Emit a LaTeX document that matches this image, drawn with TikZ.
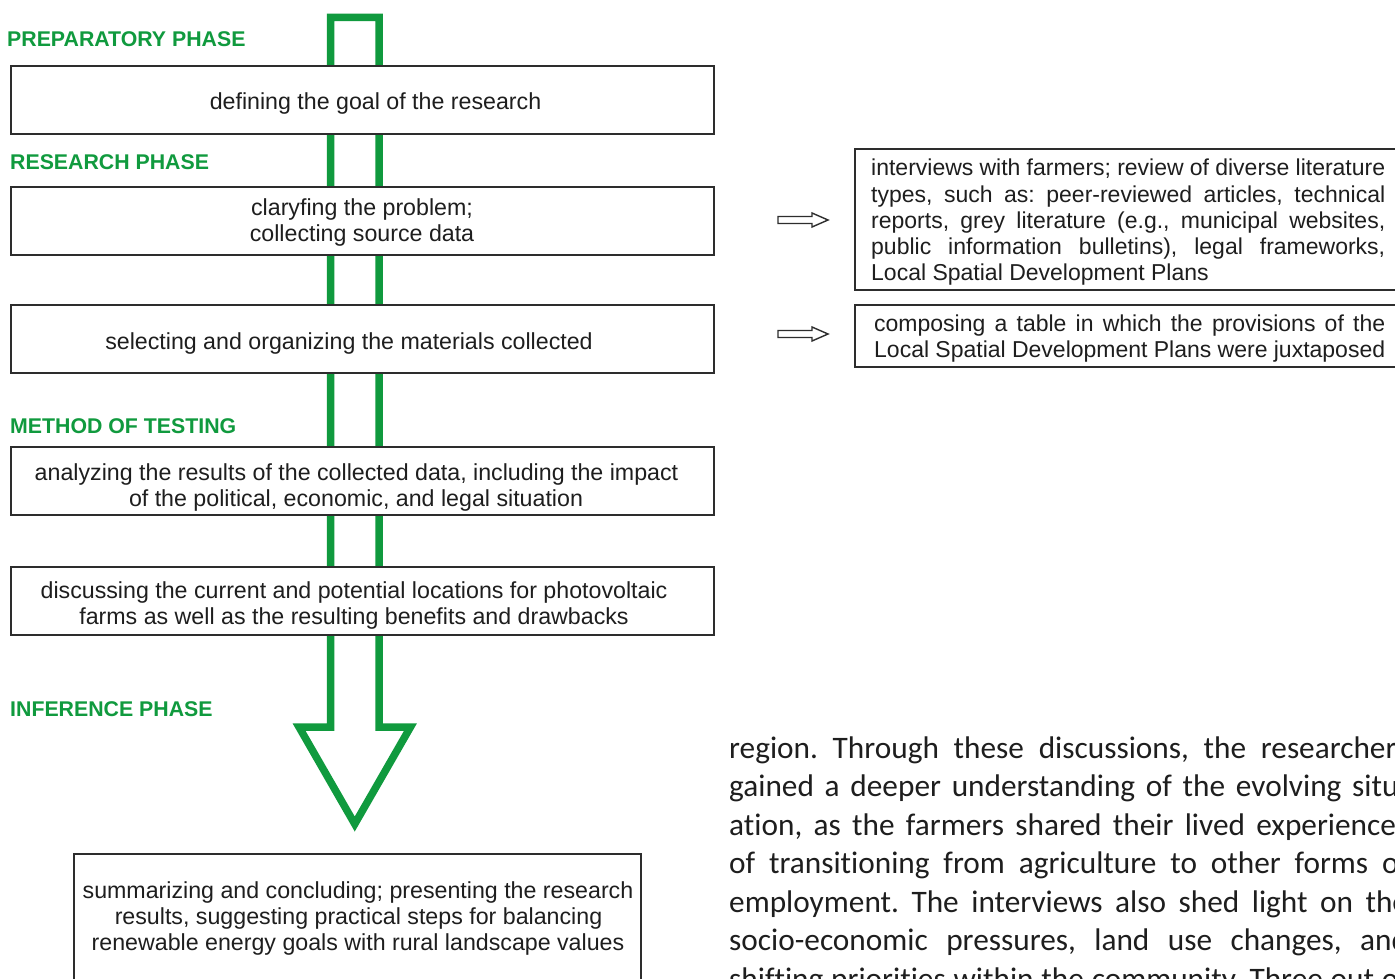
\documentclass[tikz,border=0pt]{standalone}
\usepackage{fontspec}
\setmainfont{Liberation Sans}
\newfontfamily\bodyfont[Ligatures=NoCommon]{Carlito}
\definecolor{phasegreen}{RGB}{16,154,62}
\definecolor{boxline}{RGB}{45,45,45}
\definecolor{inktext}{RGB}{30,30,30}
\frenchspacing
\begin{document}
\begin{tikzpicture}[x=1pt,y=-1pt,
  mainbox/.style={draw=boxline,line width=2pt,fill=white,inner sep=0pt,minimum width=703pt,minimum height=68pt},
  sidebox/.style={draw=boxline,line width=2pt,fill=white,inner sep=0pt},
  boxtext/.style={anchor=base,inner sep=0pt,text=inktext,font=\fontsize{23.2}{26}\selectfont},
  sidetext/.style={anchor=base west,inner sep=0pt,text=inktext,font=\fontsize{23}{26}\selectfont},
  phaselabel/.style={anchor=base west,inner sep=0pt,text=phasegreen,font=\fontsize{21.3}{24}\selectfont\bfseries},
  bodytext/.style={anchor=base west,inner sep=0pt,text=inktext,font=\bodyfont\fontsize{31.3}{38}\selectfont},
  greenarrow/.style={draw=phasegreen,line width=7.5pt,miter limit=10},
  hollowarrow/.style={draw=boxline,line width=1.4pt,fill=white}
]
\useasboundingbox (0,0) rectangle (1395,979);
\fill[white] (0,0) rectangle (1395,979);

% big green hollow arrow
\draw[greenarrow] (330.5,17.5) -- (330.5,727) -- (299,727) -- (354.75,824)
   -- (410.5,727) -- (379,727) -- (379,17.5) -- cycle;

% phase labels
\node[phaselabel] (lprep) at (7,47) {PREPARATORY PHASE};
\node[phaselabel] (lres) at (10,170) {RESEARCH PHASE};
\node[phaselabel] (lmeth) at (10,433) {METHOD OF TESTING};
\node[phaselabel] (linf) at (10,716) {INFERENCE PHASE};

% main boxes
\node[mainbox] (b1) at (362,100) {};
\node[mainbox] (b2) at (362,220.5) {};
\node[mainbox] (b3) at (362,338.5) {};
\node[mainbox] (b4) at (362,480.5) {};
\node[mainbox] (b5) at (362,600.5) {};
\node[sidebox,minimum width=567pt,minimum height=156pt] (concl) at (357.5,932) {};

\node[boxtext] (t1) at (375.5,109.5) {defining the goal of the research};
\node[boxtext] (t2a) at (362,215.5) {claryfing the problem;};
\node[boxtext] (t2b) at (362,241.5) {collecting source data};
\node[boxtext] (t3) at (349,349.5) {selecting and organizing the materials collected};
\node[boxtext] (t4a) at (356.5,480.5) {analyzing the results of the collected data, including the impact};
\node[boxtext] (t4b) at (356,506.5) {of the political, economic, and legal situation};
\node[boxtext] (t5a) at (354,598.5) {discussing the current and potential locations for photovoltaic};
\node[boxtext] (t5b) at (354,624.5) {farms as well as the resulting benefits and drawbacks};
\node[boxtext] (t6a) at (358,898.5) {summarizing and concluding; presenting the research};
\node[boxtext] (t6b) at (358.5,924.5) {results, suggesting practical steps for balancing};
\node[boxtext] (t6c) at (358,950.5) {renewable energy goals with rural landscape values};

% side boxes
\node[sidebox,minimum width=555pt,minimum height=141pt] (R1) at (1132.5,219.5) {};
\node[sidebox,minimum width=555pt,minimum height=62pt] (R2) at (1132.5,336) {};

\node[sidetext] (s1a) at (871,175.5) {\makebox[514pt][s]{interviews with farmers; review of diverse literature}};
\node[sidetext] (s1b) at (871,202) {\makebox[514pt][s]{types, such as: peer-reviewed articles, technical}};
\node[sidetext] (s1c) at (871,228) {\makebox[514pt][s]{reports, grey literature (e.g., municipal websites,}};
\node[sidetext] (s1d) at (871,254.5) {\makebox[514pt][s]{public information bulletins), legal frameworks,}};
\node[sidetext] (s1e) at (871,280.5) {Local Spatial Development Plans};
\node[sidetext] (s2a) at (874,331.5) {\makebox[511pt][s]{composing a table in which the provisions of the}};
\node[sidetext] (s2b) at (874,357.5) {\makebox[511pt][s]{Local Spatial Development Plans were juxtaposed}};

% small hollow arrows
\begin{scope}[shift={(778,220)}]
\draw[hollowarrow] (0,-3.5) -- (34,-3.5) -- (34,-7) -- (50,0) -- (34,7) -- (34,3.5) -- (0,3.5) -- cycle;
\end{scope}
\begin{scope}[shift={(778,334)}]
\draw[hollowarrow] (0,-3.5) -- (34,-3.5) -- (34,-7) -- (50,0) -- (34,7) -- (34,3.5) -- (0,3.5) -- cycle;
\end{scope}

% running body text (cropped)
\node[bodytext] (p1) at (729,758) {\makebox[679pt][s]{region. Through these discussions, the researchers}};
\node[bodytext] (p2) at (729,796.5) {\makebox[679pt][s]{gained a deeper understanding of the evolving situ-}};
\node[bodytext] (p3) at (729,835) {\makebox[679pt][s]{ation, as the farmers shared their lived experiences}};
\node[bodytext] (p4) at (729,873.5) {\makebox[679pt][s]{of transitioning from agriculture to other forms of}};
\node[bodytext] (p5) at (729,912) {\makebox[679pt][s]{employment. The interviews also shed light on the}};
\node[bodytext] (p6) at (729,950.5) {\makebox[679pt][s]{socio-economic pressures, land use changes, and}};
\node[bodytext] (p7) at (729,989) {\makebox[679pt][s]{shifting priorities within the community. Three out of}};
\end{tikzpicture}
\end{document}
